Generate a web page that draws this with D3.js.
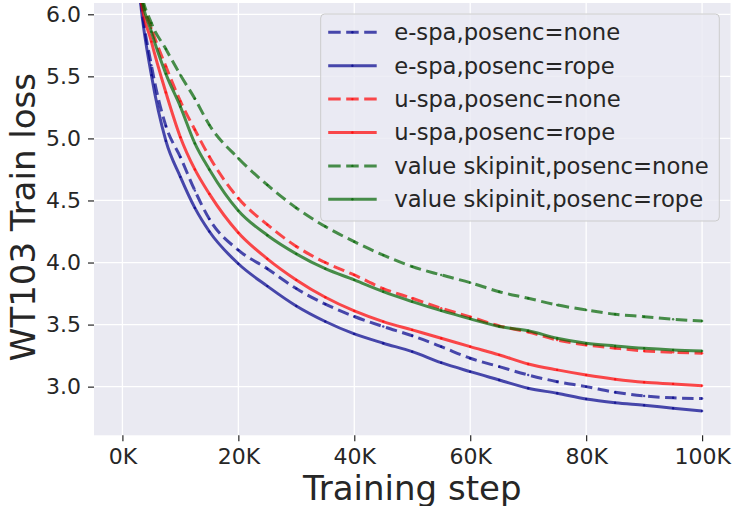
<!DOCTYPE html>
<html>
<head>
<meta charset="utf-8">
<script src="https://cdn.jsdelivr.net/npm/d3@7"></script>
<style>
	body { margin: 0; background: #ffffff; }
	svg { display: block; font-family: "DejaVu Sans", sans-serif; }
</style>
</head>
<body>
<svg id="chart" width="734" height="506"></svg>
<script>
// training steps, in thousands
const steps = [2, 3, 5, 7.5, 10, 12.5, 15, 20, 25, 30, 35, 40, 45, 50, 55, 60, 65, 70, 75, 80, 85, 90, 95, 100];

const espaNone = [6.8, 6.2, 5.59, 5.1, 4.85, 4.58, 4.35, 4.1, 3.95, 3.79, 3.665, 3.565, 3.484, 3.41, 3.322, 3.229, 3.161, 3.094, 3.04, 3.0, 2.955, 2.925, 2.91, 2.904];
const espaRope = [6.7, 6.15, 5.51, 4.98, 4.69, 4.44, 4.25, 3.99, 3.81, 3.65, 3.525, 3.425, 3.35, 3.282, 3.193, 3.121, 3.054, 2.987, 2.947, 2.901, 2.871, 2.85, 2.826, 2.804];
const uspaNone = [6.8, 6.22, 5.89, 5.58, 5.3, 5.07, 4.853, 4.518, 4.305, 4.13, 4.0, 3.9, 3.79, 3.712, 3.632, 3.562, 3.49, 3.44, 3.376, 3.336, 3.31, 3.288, 3.277, 3.269];
const uspaRope = [6.75, 6.18, 5.78, 5.37, 5.01, 4.75, 4.553, 4.24, 4.03, 3.86, 3.72, 3.61, 3.524, 3.457, 3.39, 3.322, 3.256, 3.183, 3.135, 3.094, 3.06, 3.035, 3.022, 3.008];
const skipNone = [6.8, 6.25, 5.93, 5.72, 5.511, 5.32, 5.108, 4.84, 4.625, 4.44, 4.29, 4.168, 4.06, 3.967, 3.9, 3.838, 3.765, 3.712, 3.658, 3.618, 3.583, 3.564, 3.543, 3.529];
const skipRope = [6.8, 6.22, 5.86, 5.52, 5.256, 4.96, 4.75, 4.418, 4.22, 4.07, 3.95, 3.86, 3.765, 3.685, 3.612, 3.546, 3.484, 3.45, 3.39, 3.35, 3.328, 3.309, 3.296, 3.288];

const seriesNames = ["e-spa,posenc=none", "e-spa,posenc=rope", "u-spa,posenc=none", "u-spa,posenc=rope", "value skipinit,posenc=none", "value skipinit,posenc=rope"];
const seriesValues = [espaNone, espaRope, uspaNone, uspaRope, skipNone, skipRope];
const seriesColors = ["#00008b", "#00008b", "#ff0000", "#ff0000", "#006400", "#006400"];
const seriesDashed = [true, false, true, false, true, false];

const xTicks = [0, 20, 40, 60, 80, 100];
const yTicks = [3.0, 3.5, 4.0, 4.5, 5.0, 5.5, 6.0];

const width = 734,
	height = 506,
	margin = {top: 3, right: 3.5, bottom: 70.7, left: 94},
	plotWidth = width - margin.left - margin.right,
	plotHeight = height - margin.top - margin.bottom,
	textColor = "#262626",
	dashPattern = "11.5,5.5";

const svg = d3.select("#chart");

const xScale = d3.scaleLinear().domain([-4.9, 104.9]).range([0, plotWidth]);
const yScale = d3.scaleLinear().domain([2.608, 6.091]).range([plotHeight, 0]);

const plot = svg.append("g")
	.attr("transform", "translate(" + margin.left + "," + margin.top + ")");

plot.append("rect")
	.attr("width", plotWidth)
	.attr("height", plotHeight)
	.attr("fill", "#eaeaf2");

svg.append("clipPath").attr("id", "plotClip")
	.append("rect")
	.attr("width", plotWidth)
	.attr("height", plotHeight);

// grid
plot.append("g").selectAll("line")
	.data(xTicks).enter().append("line")
	.attr("x1", d => xScale(d)).attr("x2", d => xScale(d))
	.attr("y1", 0).attr("y2", plotHeight)
	.attr("stroke", "#ffffff").attr("stroke-width", 1.3);

plot.append("g").selectAll("line")
	.data(yTicks).enter().append("line")
	.attr("x1", 0).attr("x2", plotWidth)
	.attr("y1", d => yScale(d)).attr("y2", d => yScale(d))
	.attr("stroke", "#ffffff").attr("stroke-width", 1.3);

// axes
const xAxis = d3.axisBottom(xScale)
	.tickValues(xTicks)
	.tickSize(6)
	.tickPadding(7)
	.tickFormat(d => d + "K");

const yAxis = d3.axisLeft(yScale)
	.tickValues(yTicks)
	.tickSize(6)
	.tickPadding(7)
	.tickFormat(d3.format(".1f"));

const xAxisG = plot.append("g")
	.attr("transform", "translate(0," + plotHeight + ")")
	.call(xAxis);

const yAxisG = plot.append("g").call(yAxis);

[xAxisG, yAxisG].forEach(function(g){
	g.select(".domain").remove();
	g.selectAll(".tick line").attr("stroke", textColor).attr("stroke-width", 1.2);
	g.selectAll(".tick text")
		.attr("fill", textColor)
		.style("font-size", "22px")
		.style("font-family", "DejaVu Sans");
});

// lines
const lineGen = d3.line()
	.x((d, i) => xScale(steps[i]))
	.y(d => yScale(d))
	.curve(d3.curveMonotoneX);

const linesG = plot.append("g").attr("clip-path", "url(#plotClip)");

seriesValues.forEach(function(values, k){
	linesG.append("path")
		.attr("d", lineGen(values))
		.attr("fill", "none")
		.attr("stroke", seriesColors[k])
		.attr("stroke-opacity", 0.7)
		.attr("stroke-width", 3)
		.attr("stroke-dasharray", seriesDashed[k] ? dashPattern : null);

	linesG.append("g").selectAll("circle")
		.data(values).enter().append("circle")
		.attr("cx", (d, i) => xScale(steps[i]))
		.attr("cy", d => yScale(d))
		.attr("r", 1.2)
		.attr("fill", seriesColors[k])
		.attr("fill-opacity", 0.7);
});

// legend
const legend = svg.append("g").attr("transform", "translate(320.7,14)");

legend.append("rect")
	.attr("width", 398.6)
	.attr("height", 207)
	.attr("rx", 4)
	.attr("fill", "#eaeaf2")
	.attr("fill-opacity", 0.8)
	.attr("stroke", "#cccccc")
	.attr("stroke-width", 1);

seriesNames.forEach(function(name, k){
	let row = legend.append("g").attr("transform", "translate(0," + (18.3 + k * 33.4) + ")");
	row.append("line")
		.attr("x1", 7.5).attr("x2", 56)
		.attr("stroke", seriesColors[k])
		.attr("stroke-opacity", 0.7)
		.attr("stroke-width", 3)
		.attr("stroke-dasharray", seriesDashed[k] ? "12.5,5.5" : null);
	row.append("circle")
		.attr("cx", 31.7).attr("r", 1.2)
		.attr("fill", seriesColors[k])
		.attr("fill-opacity", 0.7);
	row.append("text")
		.attr("x", 73.5)
		.attr("dy", "0.35em")
		.attr("fill", textColor)
		.style("font-size", "22.7px")
		.text(name);
});

// axis labels
svg.append("text")
	.attr("x", margin.left + plotWidth / 2)
	.attr("y", 500)
	.attr("text-anchor", "middle")
	.attr("fill", textColor)
	.style("font-size", "34px")
	.text("Training step");

svg.append("text")
	.attr("transform", "translate(35," + (margin.top + plotHeight / 2 - 2) + ") rotate(-90)")
	.attr("text-anchor", "middle")
	.attr("fill", textColor)
	.style("font-size", "34px")
	.text("WT103 Train loss");
</script>
</body>
</html>
